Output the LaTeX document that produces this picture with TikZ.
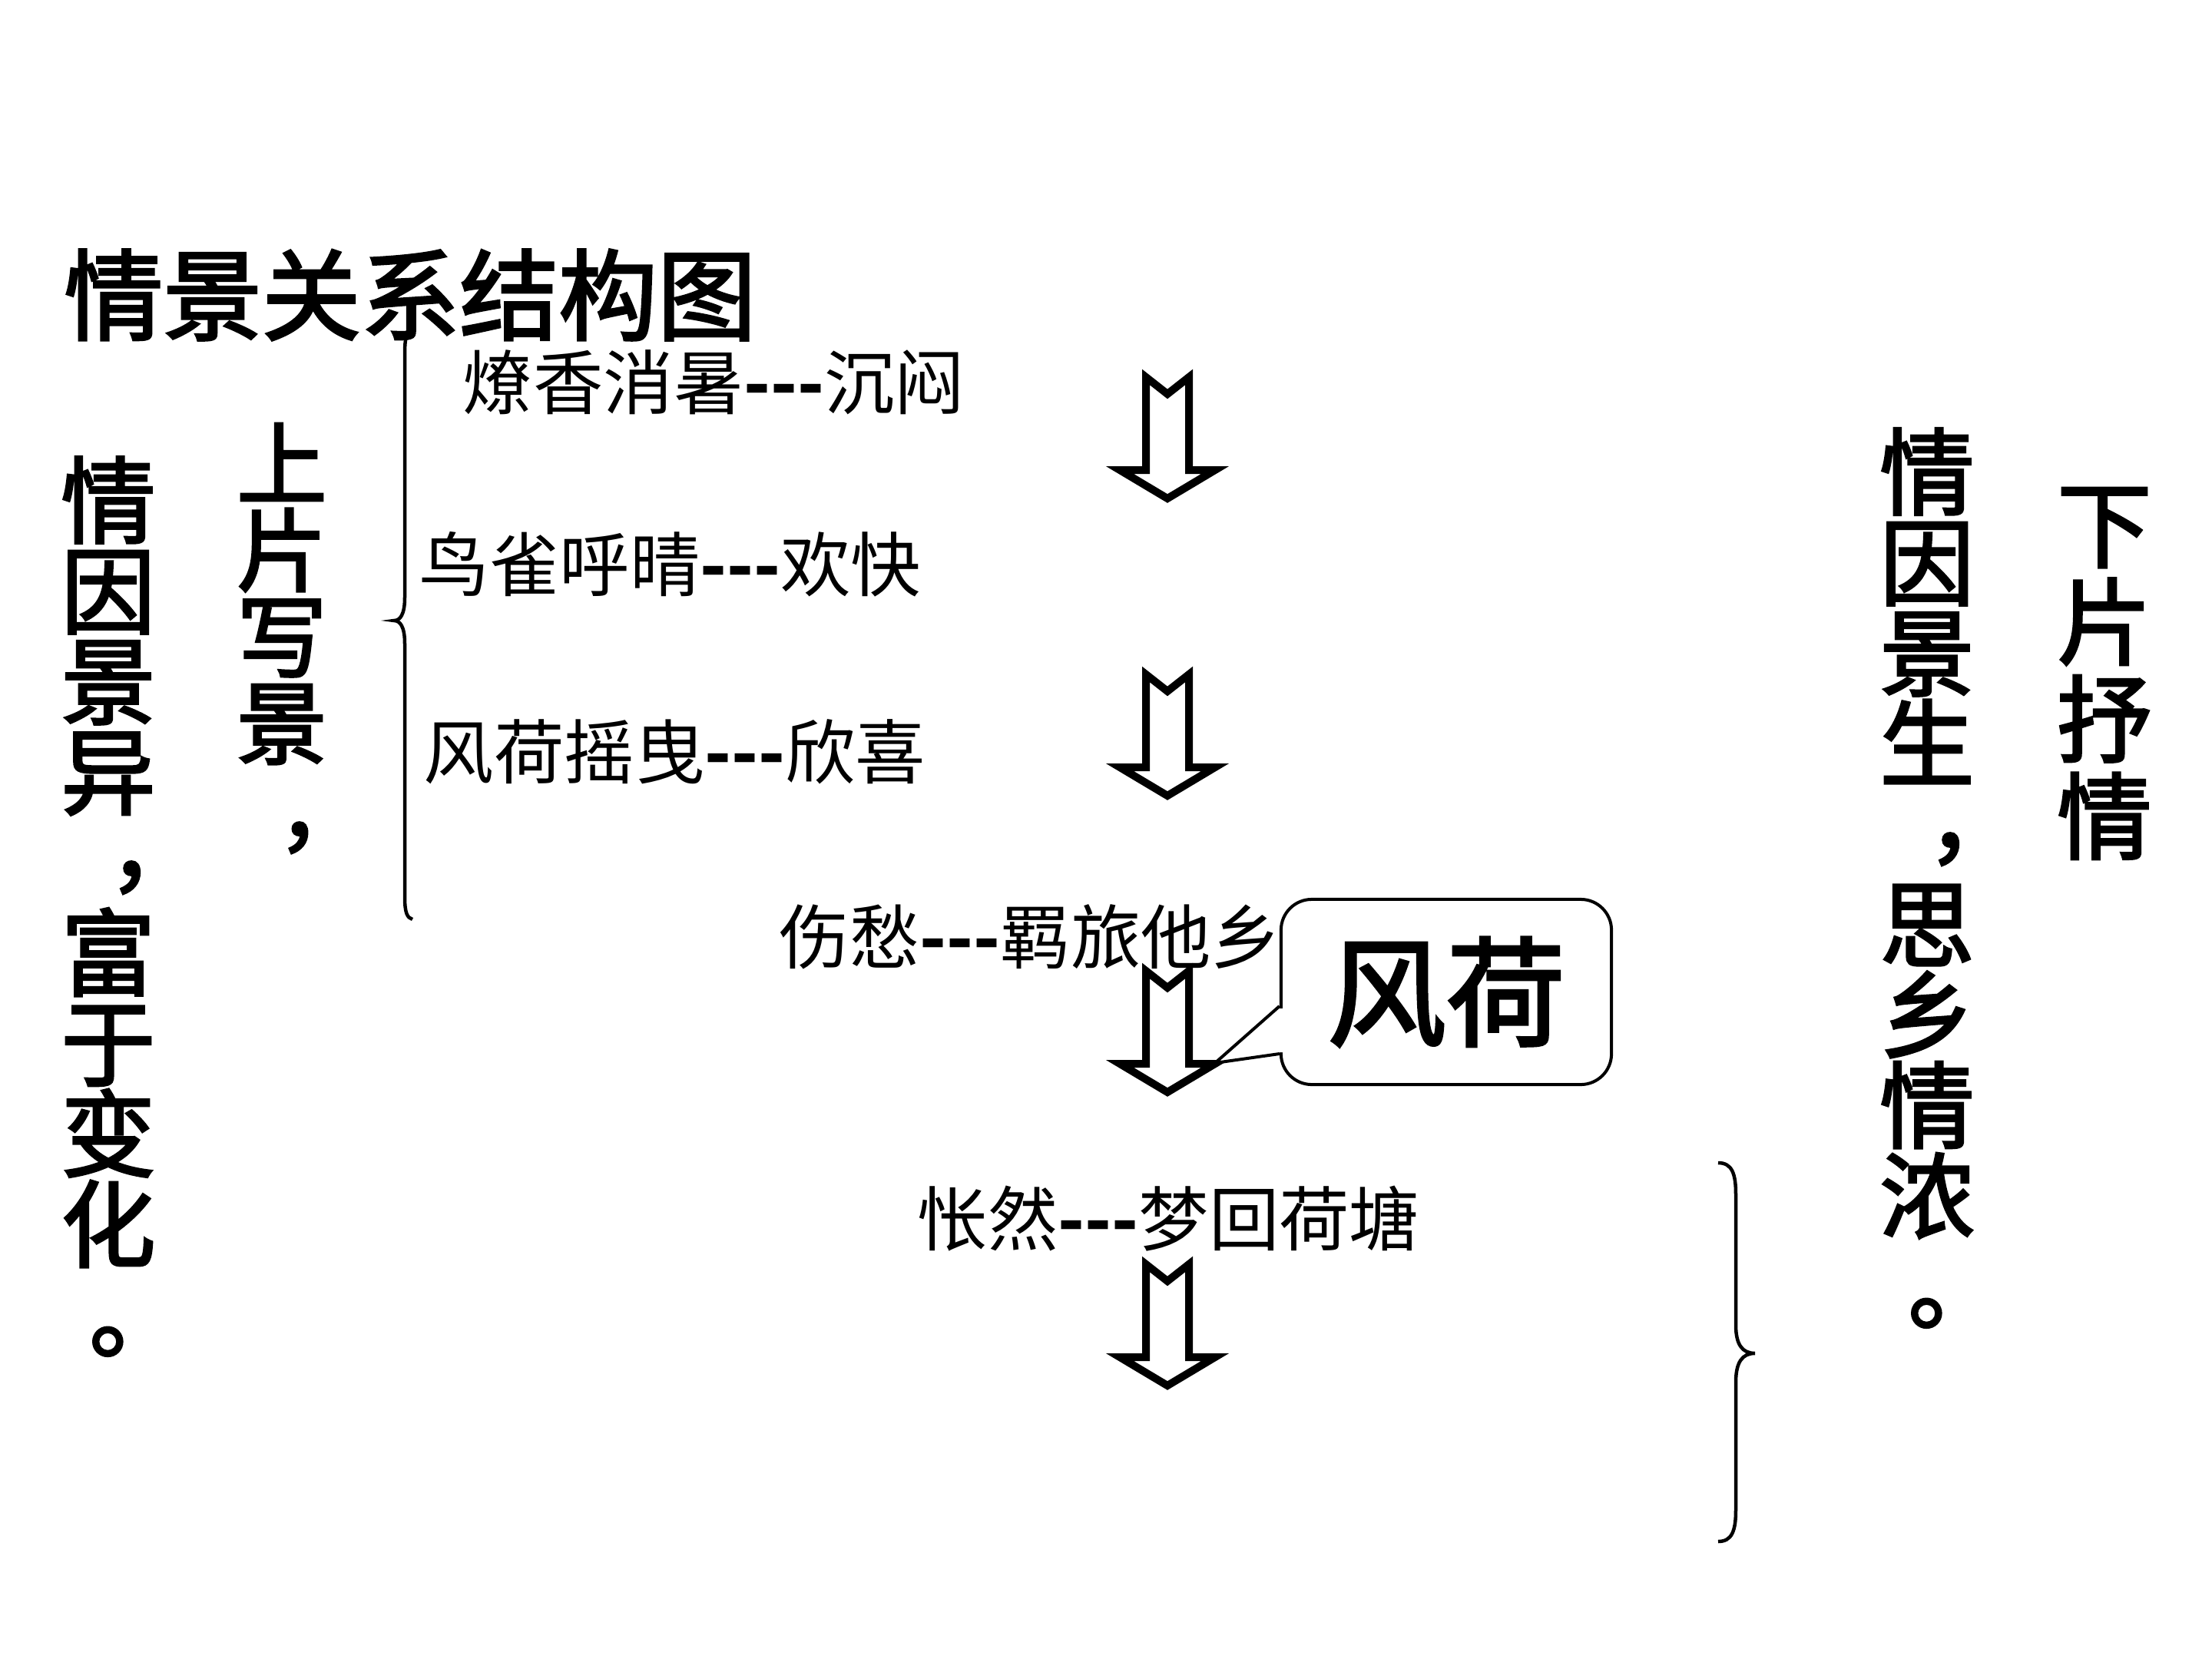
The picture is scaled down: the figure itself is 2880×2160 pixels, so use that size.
\documentclass[tikz,border=0pt]{standalone}
\usepackage{fontspec}
\setmainfont{Noto Sans CJK SC}
\newfontfamily\heavy[FakeBold=2.5]{Noto Sans CJK SC}
\newcommand\vcomma{\makebox[1em][l]{\hspace{0.5em}\raisebox{0.15em}{，}}}
\newcommand\vcommab{\makebox[1em][l]{\hspace{0.45em}，}}
\newcommand\vperiod{\makebox[1em][l]{\hspace{0.3em}。}}
\begin{document}
\begin{tikzpicture}[x=0.01cm,y=-0.01cm,
  small/.style={inner sep=0pt,anchor=west,font=\fontsize{26}{26}\selectfont},
  vcol/.style={inner sep=0pt,align=center,font=\heavy\fontsize{35}{33.5}\selectfont},
  arrowline/.style={line width=0.1cm,line join=miter,fill=white},
  bracestyle/.style={line width=0.045cm},
  calloutline/.style={line width=0.04cm},
  hollowarrow/.pic={\draw[arrowline] (-28,0) -- (0,22) -- (28,0) -- (28,121) -- (62,121) -- (0,158) -- (-62,121) -- (-28,121) -- cycle;}
]
\useasboundingbox (0,0) rectangle (2880,2160);

% title
\node[inner sep=0pt,anchor=west,font=\heavy\fontsize{36.6}{36.6}\selectfont] (title) at (83,384) {情景关系结构图};

% vertical columns
\node[vcol] (leftcol) at (141,1180) {情\\因\\景\\异\\\vcomma\\富\\于\\变\\化\\\vperiod};
\node[vcol,font=\heavy\fontsize{33.5}{32}\selectfont] (shangpian) at (367,831) {上\\片\\写\\景\\\vcommab};
\node[vcol] (rightcol) at (2509,1143) {情\\因\\景\\生\\\vcomma\\思\\乡\\情\\浓\\\vperiod};
\node[vcol,font=\heavy\fontsize{35}{36}\selectfont] (xiapian) at (2740,877) {下\\片\\抒\\情};

% small texts
\node[small] (t1) at (602,498) {燎香消暑\textbf{-{}-{}-}沉闷};
\node[small] (t2) at (545,735) {鸟雀呼晴\textbf{-{}-{}-}欢快};
\node[small] (t3) at (551,979) {风荷摇曳\textbf{-{}-{}-}欣喜};
\node[small] (t4) at (1014,1220) {伤愁\textbf{-{}-{}-}羁旅他乡};
\node[small] (t5) at (1194,1587) {怅然\textbf{-{}-{}-}梦回荷塘};

% hollow arrows
\pic at (1520,491) {hollowarrow};
\pic at (1520,878) {hollowarrow};
\pic at (1520,1264) {hollowarrow};
\pic at (1520,1646) {hollowarrow};

% callout
\node[calloutline,draw,fill=white,rounded corners=0.4cm,minimum width=4.3cm,minimum height=2.41cm,inner sep=0pt,
  font=\heavy\fontsize{44}{44}\selectfont] (fenghe) at (1883,1291.5) {风荷};
\coordinate (ptip) at (1582,1384);
\fill[white] (ptip) -- (1664,1313) -- (1674,1313) -- (1674,1370) -- (1664,1370) -- cycle;
\draw[calloutline,line join=miter] (fenghe.west |- 0,1310) -- (ptip) -- (fenghe.west |- 0,1372);

% left brace
\draw[bracestyle] (537,426) .. controls (529,432) and (527,440) .. (527,462)
  -- (527,778) .. controls (527,800) and (521,808) .. (513,808)
  .. controls (521,808) and (527,816) .. (527,838)
  -- (527,1168) .. controls (527,1188) and (530,1195) .. (537,1197);

% right brace
\draw[bracestyle] (2237,1514) .. controls (2255,1514) and (2260,1528) .. (2260,1555)
  -- (2260,1725) .. controls (2260,1750) and (2268,1762) .. (2285,1762)
  .. controls (2268,1762) and (2260,1774) .. (2260,1800)
  -- (2260,1966) .. controls (2260,1993) and (2255,2007) .. (2237,2007);
\end{tikzpicture}
\end{document}
